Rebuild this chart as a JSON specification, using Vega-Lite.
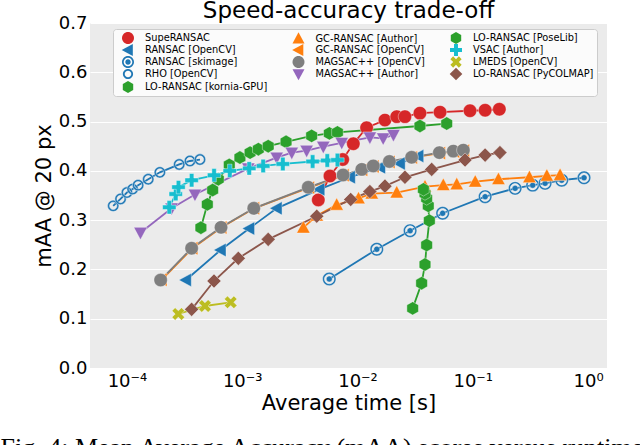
{
  "$schema": "https://vega.github.io/schema/vega-lite/v6.json",
  "width": 517,
  "height": 345,
  "autosize": {"type": "none"},
  "padding": {"left": 90, "top": 23, "right": 33, "bottom": 77},
  "background": "white",
  "title": {"text": "Speed-accuracy trade-off", "font": "DejaVu Sans", "fontSize": 23, "fontWeight": "normal", "color": "black", "anchor": "middle", "offset": -27, "baseline": "alphabetic"},
  "config": {
    "view": {"fill": "#EBEBEB", "stroke": null},
    "axis": {"gridColor": "white", "gridWidth": 1.2, "gridOpacity": 1, "domain": false, "ticks": false, "labelFont": "DejaVu Sans", "labelFontSize": 18, "labelColor": "black", "titleFont": "DejaVu Sans", "titleFontSize": 21, "titleFontWeight": "normal", "titleColor": "black"}
  },
  "data": {"values": [
    {"s": "SupeRANSAC", "i": 0, "t": 0.00457, "m": 0.341},
    {"s": "SupeRANSAC", "i": 1, "t": 0.00577, "m": 0.3895},
    {"s": "SupeRANSAC", "i": 2, "t": 0.00744, "m": 0.423},
    {"s": "SupeRANSAC", "i": 3, "t": 0.0092, "m": 0.455},
    {"s": "SupeRANSAC", "i": 4, "t": 0.012, "m": 0.4875},
    {"s": "SupeRANSAC", "i": 5, "t": 0.0173, "m": 0.503},
    {"s": "SupeRANSAC", "i": 6, "t": 0.0219, "m": 0.510},
    {"s": "SupeRANSAC", "i": 7, "t": 0.0258, "m": 0.510},
    {"s": "SupeRANSAC", "i": 8, "t": 0.0348, "m": 0.517},
    {"s": "SupeRANSAC", "i": 9, "t": 0.052, "m": 0.519},
    {"s": "SupeRANSAC", "i": 10, "t": 0.0946, "m": 0.522},
    {"s": "SupeRANSAC", "i": 11, "t": 0.128, "m": 0.523},
    {"s": "SupeRANSAC", "i": 12, "t": 0.170, "m": 0.525},

    {"s": "RANSAC [OpenCV]", "i": 0, "t": 0.000325, "m": 0.1785},
    {"s": "RANSAC [OpenCV]", "i": 1, "t": 0.00065, "m": 0.2394},
    {"s": "RANSAC [OpenCV]", "i": 2, "t": 0.00115, "m": 0.283},
    {"s": "RANSAC [OpenCV]", "i": 3, "t": 0.00199, "m": 0.324},
    {"s": "RANSAC [OpenCV]", "i": 4, "t": 0.00467, "m": 0.3625},
    {"s": "RANSAC [OpenCV]", "i": 5, "t": 0.0086, "m": 0.387},
    {"s": "RANSAC [OpenCV]", "i": 6, "t": 0.0157, "m": 0.407},
    {"s": "RANSAC [OpenCV]", "i": 7, "t": 0.0233, "m": 0.415},
    {"s": "RANSAC [OpenCV]", "i": 8, "t": 0.0337, "m": 0.430},

    {"s": "RANSAC [skimage]", "i": 0, "t": 0.00569, "m": 0.1806},
    {"s": "RANSAC [skimage]", "i": 1, "t": 0.0147, "m": 0.241},
    {"s": "RANSAC [skimage]", "i": 2, "t": 0.0286, "m": 0.2786},
    {"s": "RANSAC [skimage]", "i": 3, "t": 0.0548, "m": 0.314},
    {"s": "RANSAC [skimage]", "i": 4, "t": 0.128, "m": 0.3476},
    {"s": "RANSAC [skimage]", "i": 5, "t": 0.233, "m": 0.3645},
    {"s": "RANSAC [skimage]", "i": 6, "t": 0.331, "m": 0.371},
    {"s": "RANSAC [skimage]", "i": 7, "t": 0.424, "m": 0.3747},
    {"s": "RANSAC [skimage]", "i": 8, "t": 0.591, "m": 0.381},
    {"s": "RANSAC [skimage]", "i": 9, "t": 0.923, "m": 0.386},

    {"s": "RHO [OpenCV]", "i": 0, "t": 0.000076, "m": 0.329},
    {"s": "RHO [OpenCV]", "i": 1, "t": 0.000088, "m": 0.343},
    {"s": "RHO [OpenCV]", "i": 2, "t": 0.0001, "m": 0.356},
    {"s": "RHO [OpenCV]", "i": 3, "t": 0.000112, "m": 0.363},
    {"s": "RHO [OpenCV]", "i": 4, "t": 0.000125, "m": 0.371},
    {"s": "RHO [OpenCV]", "i": 5, "t": 0.000153, "m": 0.383},
    {"s": "RHO [OpenCV]", "i": 6, "t": 0.000193, "m": 0.397},
    {"s": "RHO [OpenCV]", "i": 7, "t": 0.000284, "m": 0.413},
    {"s": "RHO [OpenCV]", "i": 8, "t": 0.000352, "m": 0.420},
    {"s": "RHO [OpenCV]", "i": 9, "t": 0.00043, "m": 0.423},

    {"s": "LO-RANSAC [kornia-GPU]", "i": 0, "t": 0.000438, "m": 0.2847},
    {"s": "LO-RANSAC [kornia-GPU]", "i": 1, "t": 0.000498, "m": 0.332},
    {"s": "LO-RANSAC [kornia-GPU]", "i": 2, "t": 0.000554, "m": 0.361},
    {"s": "LO-RANSAC [kornia-GPU]", "i": 3, "t": 0.00062, "m": 0.383},
    {"s": "LO-RANSAC [kornia-GPU]", "i": 4, "t": 0.000772, "m": 0.412},
    {"s": "LO-RANSAC [kornia-GPU]", "i": 5, "t": 0.000955, "m": 0.427},
    {"s": "LO-RANSAC [kornia-GPU]", "i": 6, "t": 0.00117, "m": 0.437},
    {"s": "LO-RANSAC [kornia-GPU]", "i": 7, "t": 0.00138, "m": 0.444},
    {"s": "LO-RANSAC [kornia-GPU]", "i": 8, "t": 0.00168, "m": 0.450},
    {"s": "LO-RANSAC [kornia-GPU]", "i": 9, "t": 0.0024, "m": 0.459},
    {"s": "LO-RANSAC [kornia-GPU]", "i": 10, "t": 0.004, "m": 0.471},
    {"s": "LO-RANSAC [kornia-GPU]", "i": 11, "t": 0.0057, "m": 0.476},
    {"s": "LO-RANSAC [kornia-GPU]", "i": 12, "t": 0.0067, "m": 0.478},
    {"s": "LO-RANSAC [kornia-GPU]", "i": 13, "t": 0.0348, "m": 0.491},
    {"s": "LO-RANSAC [kornia-GPU]", "i": 14, "t": 0.0594, "m": 0.496},

    {"s": "GC-RANSAC [Author]", "i": 0, "t": 0.00339, "m": 0.2847},
    {"s": "GC-RANSAC [Author]", "i": 1, "t": 0.00443, "m": 0.309},
    {"s": "GC-RANSAC [Author]", "i": 2, "t": 0.0066, "m": 0.331},
    {"s": "GC-RANSAC [Author]", "i": 3, "t": 0.0102, "m": 0.344},
    {"s": "GC-RANSAC [Author]", "i": 4, "t": 0.0133, "m": 0.354},
    {"s": "GC-RANSAC [Author]", "i": 5, "t": 0.0219, "m": 0.356},
    {"s": "GC-RANSAC [Author]", "i": 6, "t": 0.0385, "m": 0.368},
    {"s": "GC-RANSAC [Author]", "i": 7, "t": 0.0555, "m": 0.371},
    {"s": "GC-RANSAC [Author]", "i": 8, "t": 0.0726, "m": 0.3725},
    {"s": "GC-RANSAC [Author]", "i": 9, "t": 0.105, "m": 0.378},
    {"s": "GC-RANSAC [Author]", "i": 10, "t": 0.167, "m": 0.383},
    {"s": "GC-RANSAC [Author]", "i": 11, "t": 0.31, "m": 0.387},
    {"s": "GC-RANSAC [Author]", "i": 12, "t": 0.439, "m": 0.390},
    {"s": "GC-RANSAC [Author]", "i": 13, "t": 0.572, "m": 0.3915},

    {"s": "GC-RANSAC [OpenCV]", "i": 0, "t": 0.0002, "m": 0.179},
    {"s": "GC-RANSAC [OpenCV]", "i": 1, "t": 0.00037, "m": 0.243},
    {"s": "GC-RANSAC [OpenCV]", "i": 2, "t": 0.00066, "m": 0.285},
    {"s": "GC-RANSAC [OpenCV]", "i": 3, "t": 0.00127, "m": 0.324},
    {"s": "GC-RANSAC [OpenCV]", "i": 4, "t": 0.0038, "m": 0.366},
    {"s": "GC-RANSAC [OpenCV]", "i": 5, "t": 0.0076, "m": 0.391},
    {"s": "GC-RANSAC [OpenCV]", "i": 6, "t": 0.011, "m": 0.402},
    {"s": "GC-RANSAC [OpenCV]", "i": 7, "t": 0.0138, "m": 0.409},
    {"s": "GC-RANSAC [OpenCV]", "i": 8, "t": 0.019, "m": 0.418},
    {"s": "GC-RANSAC [OpenCV]", "i": 9, "t": 0.0297, "m": 0.427},
    {"s": "GC-RANSAC [OpenCV]", "i": 10, "t": 0.052, "m": 0.436},
    {"s": "GC-RANSAC [OpenCV]", "i": 11, "t": 0.069, "m": 0.439},
    {"s": "GC-RANSAC [OpenCV]", "i": 12, "t": 0.084, "m": 0.441},

    {"s": "MAGSAC++ [OpenCV]", "i": 0, "t": 0.000196, "m": 0.1785},
    {"s": "MAGSAC++ [OpenCV]", "i": 1, "t": 0.000364, "m": 0.243},
    {"s": "MAGSAC++ [OpenCV]", "i": 2, "t": 0.000655, "m": 0.2854},
    {"s": "MAGSAC++ [OpenCV]", "i": 3, "t": 0.00126, "m": 0.324},
    {"s": "MAGSAC++ [OpenCV]", "i": 4, "t": 0.00374, "m": 0.3666},
    {"s": "MAGSAC++ [OpenCV]", "i": 5, "t": 0.0075, "m": 0.3916},
    {"s": "MAGSAC++ [OpenCV]", "i": 6, "t": 0.0109, "m": 0.403},
    {"s": "MAGSAC++ [OpenCV]", "i": 7, "t": 0.0137, "m": 0.410},
    {"s": "MAGSAC++ [OpenCV]", "i": 8, "t": 0.0189, "m": 0.419},
    {"s": "MAGSAC++ [OpenCV]", "i": 9, "t": 0.0295, "m": 0.4275},
    {"s": "MAGSAC++ [OpenCV]", "i": 10, "t": 0.0513, "m": 0.437},
    {"s": "MAGSAC++ [OpenCV]", "i": 11, "t": 0.0678, "m": 0.440},
    {"s": "MAGSAC++ [OpenCV]", "i": 12, "t": 0.0828, "m": 0.442},

    {"s": "MAGSAC++ [Author]", "i": 0, "t": 0.000131, "m": 0.2745},
    {"s": "MAGSAC++ [Author]", "i": 1, "t": 0.000244, "m": 0.324},
    {"s": "MAGSAC++ [Author]", "i": 2, "t": 0.000389, "m": 0.352},
    {"s": "MAGSAC++ [Author]", "i": 3, "t": 0.00113, "m": 0.405},
    {"s": "MAGSAC++ [Author]", "i": 4, "t": 0.00199, "m": 0.427},
    {"s": "MAGSAC++ [Author]", "i": 5, "t": 0.00269, "m": 0.437},
    {"s": "MAGSAC++ [Author]", "i": 6, "t": 0.00362, "m": 0.441},
    {"s": "MAGSAC++ [Author]", "i": 7, "t": 0.00505, "m": 0.449},
    {"s": "MAGSAC++ [Author]", "i": 8, "t": 0.0073, "m": 0.457},
    {"s": "MAGSAC++ [Author]", "i": 9, "t": 0.0128, "m": 0.468},
    {"s": "MAGSAC++ [Author]", "i": 10, "t": 0.0167, "m": 0.466},
    {"s": "MAGSAC++ [Author]", "i": 11, "t": 0.0205, "m": 0.473},

    {"s": "LO-RANSAC [PoseLib]", "i": 0, "t": 0.0301, "m": 0.121},
    {"s": "LO-RANSAC [PoseLib]", "i": 1, "t": 0.036, "m": 0.172},
    {"s": "LO-RANSAC [PoseLib]", "i": 2, "t": 0.0385, "m": 0.210},
    {"s": "LO-RANSAC [PoseLib]", "i": 3, "t": 0.0398, "m": 0.2495},
    {"s": "LO-RANSAC [PoseLib]", "i": 4, "t": 0.042, "m": 0.299},
    {"s": "LO-RANSAC [PoseLib]", "i": 5, "t": 0.0411, "m": 0.329},
    {"s": "LO-RANSAC [PoseLib]", "i": 6, "t": 0.0398, "m": 0.344},
    {"s": "LO-RANSAC [PoseLib]", "i": 7, "t": 0.0385, "m": 0.354},
    {"s": "LO-RANSAC [PoseLib]", "i": 8, "t": 0.0373, "m": 0.3625},

    {"s": "VSAC [Author]", "i": 0, "t": 0.000233, "m": 0.326},
    {"s": "VSAC [Author]", "i": 1, "t": 0.000265, "m": 0.353},
    {"s": "VSAC [Author]", "i": 2, "t": 0.00028, "m": 0.367},
    {"s": "VSAC [Author]", "i": 3, "t": 0.000364, "m": 0.381},
    {"s": "VSAC [Author]", "i": 4, "t": 0.00057, "m": 0.391},
    {"s": "VSAC [Author]", "i": 5, "t": 0.00078, "m": 0.400},
    {"s": "VSAC [Author]", "i": 6, "t": 0.00115, "m": 0.405},
    {"s": "VSAC [Author]", "i": 7, "t": 0.00152, "m": 0.410},
    {"s": "VSAC [Author]", "i": 8, "t": 0.00225, "m": 0.414},
    {"s": "VSAC [Author]", "i": 9, "t": 0.00408, "m": 0.419},
    {"s": "VSAC [Author]", "i": 10, "t": 0.00547, "m": 0.421},
    {"s": "VSAC [Author]", "i": 11, "t": 0.0067, "m": 0.422},

    {"s": "LMEDS [OpenCV]", "i": 0, "t": 0.000279, "m": 0.1096},
    {"s": "LMEDS [OpenCV]", "i": 1, "t": 0.000475, "m": 0.1258},
    {"s": "LMEDS [OpenCV]", "i": 2, "t": 0.000794, "m": 0.1333},

    {"s": "LO-RANSAC [PyCOLMAP]", "i": 0, "t": 0.000364, "m": 0.119},
    {"s": "LO-RANSAC [PyCOLMAP]", "i": 1, "t": 0.000569, "m": 0.1765},
    {"s": "LO-RANSAC [PyCOLMAP]", "i": 2, "t": 0.000925, "m": 0.2225},
    {"s": "LO-RANSAC [PyCOLMAP]", "i": 3, "t": 0.00168, "m": 0.261},
    {"s": "LO-RANSAC [PyCOLMAP]", "i": 4, "t": 0.00443, "m": 0.308},
    {"s": "LO-RANSAC [PyCOLMAP]", "i": 5, "t": 0.00873, "m": 0.342},
    {"s": "LO-RANSAC [PyCOLMAP]", "i": 6, "t": 0.0128, "m": 0.358},
    {"s": "LO-RANSAC [PyCOLMAP]", "i": 7, "t": 0.0173, "m": 0.369},
    {"s": "LO-RANSAC [PyCOLMAP]", "i": 8, "t": 0.0258, "m": 0.387},
    {"s": "LO-RANSAC [PyCOLMAP]", "i": 9, "t": 0.044, "m": 0.403},
    {"s": "LO-RANSAC [PyCOLMAP]", "i": 10, "t": 0.0857, "m": 0.422},
    {"s": "LO-RANSAC [PyCOLMAP]", "i": 11, "t": 0.128, "m": 0.432},
    {"s": "LO-RANSAC [PyCOLMAP]", "i": 12, "t": 0.172, "m": 0.437}
  ]},
  "encoding": {
    "y": {"field": "m", "type": "quantitative", "scale": {"domain": [0, 0.7], "nice": false, "zero": false},
      "axis": {"title": "mAA @ 20 px", "values": [0, 0.1, 0.2, 0.3, 0.4, 0.5, 0.6, 0.7], "format": ".1f", "labelPadding": 3, "titlePadding": 4}}
  },
  "layer": [
    {
      "mark": {"type": "line", "strokeWidth": 1.8},
      "encoding": {
        "x": {"field": "t", "type": "quantitative", "scale": {"type": "log", "domain": [0.0000478, 1.46], "nice": false},
          "axis": {"orient": "bottom", "title": "Fig. 4: Mean Average Accuracy (mAA) scores versus runtime", "titleFont": "Liberation Serif", "titleFontSize": 26, "titleFontWeight": "normal", "titleAnchor": "start", "titleAlign": "left", "titleBaseline": "alphabetic", "titleX": -90, "titleY": 87, "labels": false, "ticks": false, "domain": false, "grid": false}},
        "stroke": {"field": "s", "type": "nominal",
          "scale": {"domain": ["SupeRANSAC", "RANSAC [OpenCV]", "RANSAC [skimage]", "RHO [OpenCV]", "LO-RANSAC [PyCOLMAP]", "GC-RANSAC [Author]", "GC-RANSAC [OpenCV]", "MAGSAC++ [OpenCV]", "MAGSAC++ [Author]", "LO-RANSAC [kornia-GPU]", "LO-RANSAC [PoseLib]", "VSAC [Author]", "LMEDS [OpenCV]"],
            "range": ["#d62728", "#1f77b4", "#1f77b4", "#1f77b4", "#8c564b", "#ff7f0e", "#ff7f0e", "#7f7f7f", "#9467bd", "#2ca02c", "#2ca02c", "#17becf", "#bcbd22"]}},
        "order": {"field": "i", "type": "quantitative"}
      }
    },
    {
      "mark": {"type": "point", "filled": true, "size": 180, "opacity": 1, "stroke": "white", "strokeWidth": 0.8, "strokeOpacity": 0.5},
      "encoding": {
        "x": {"field": "t", "type": "quantitative",
          "axis": {"orient": "bottom", "title": "Average time [s]", "values": [0.0001, 0.001, 0.01, 0.1, 1], "labelExpr": "datum.value < 0.0002 ? '10⁻⁴' : datum.value < 0.002 ? '10⁻³' : datum.value < 0.02 ? '10⁻²' : datum.value < 0.2 ? '10⁻¹' : '10⁰'", "labelPadding": 4, "titlePadding": 2}},
        "color": {"field": "s", "type": "nominal",
          "scale": {"domain": ["SupeRANSAC", "RANSAC [OpenCV]", "RANSAC [skimage]", "RHO [OpenCV]", "LO-RANSAC [PyCOLMAP]", "GC-RANSAC [Author]", "GC-RANSAC [OpenCV]", "MAGSAC++ [OpenCV]", "MAGSAC++ [Author]", "LO-RANSAC [kornia-GPU]", "LO-RANSAC [PoseLib]", "VSAC [Author]", "LMEDS [OpenCV]"],
            "range": ["#d62728", "#1f77b4", "#1f77b4", "#1f77b4", "#8c564b", "#ff7f0e", "#ff7f0e", "#7f7f7f", "#9467bd", "#2ca02c", "#2ca02c", "#17becf", "#bcbd22"]},
          "legend": {"title": null, "orient": "none", "legendX": 23, "legendY": 6, "columns": 3, "symbolSize": 144, "symbolStrokeWidth": 0, "labelFont": "DejaVu Sans", "labelFontSize": 9.8, "labelColor": "black", "labelOffset": 11, "rowPadding": -4, "columnPadding": 18.5, "padding": 3, "fillColor": "#FBFBFB", "strokeColor": "#CCCCCC", "cornerRadius": 3, "symbolOpacity": 1, "symbolOffset": 6, "labelLimit": 300}},
        "shape": {"field": "s", "type": "nominal",
          "scale": {"domain": ["SupeRANSAC", "RANSAC [OpenCV]", "RANSAC [skimage]", "RHO [OpenCV]", "LO-RANSAC [PyCOLMAP]", "GC-RANSAC [Author]", "GC-RANSAC [OpenCV]", "MAGSAC++ [OpenCV]", "MAGSAC++ [Author]", "LO-RANSAC [kornia-GPU]", "LO-RANSAC [PoseLib]", "VSAC [Author]", "LMEDS [OpenCV]"],
            "range": [
              "M1,0A1,1,0,1,1,-1,0A1,1,0,1,1,1,0Z",
              "M-1.05,0L0.8,-1L0.8,1Z",
              "M1,0A1,1,0,1,1,-1,0A1,1,0,1,1,1,0Z M0.72,0A0.72,0.72,0,1,0,-0.72,0A0.72,0.72,0,1,0,0.72,0Z M0.45,0A0.45,0.45,0,1,1,-0.45,0A0.45,0.45,0,1,1,0.45,0Z",
              "M0.85,0A0.85,0.85,0,1,1,-0.85,0A0.85,0.85,0,1,1,0.85,0Z M0.55,0A0.55,0.55,0,1,0,-0.55,0A0.55,0.55,0,1,0,0.55,0Z",
              "M0,-1.05L1.05,0L0,1.05L-1.05,0Z",
              "M0,-1.05L1,0.8L-1,0.8Z",
              "M-1.05,0L0.8,-1L0.8,1Z",
              "M1,0A1,1,0,1,1,-1,0A1,1,0,1,1,1,0Z",
              "M0,1.05L1,-0.8L-1,-0.8Z",
              "M0,-1L0.866,-0.5L0.866,0.5L0,1L-0.866,0.5L-0.866,-0.5Z",
              "M0,-1L0.866,-0.5L0.866,0.5L0,1L-0.866,0.5L-0.866,-0.5Z",
              "M-0.33,-1H0.33V-0.33H1V0.33H0.33V1H-0.33V0.33H-1V-0.33H-0.33Z",
              "M0.474,-0.94L0.94,-0.474L0.467,0L0.94,0.474L0.474,0.94L0,0.467L-0.474,0.94L-0.94,0.474L-0.467,0L-0.94,-0.474L-0.474,-0.94L0,-0.467Z"
            ]}}
      }
    }
  ],
  "resolve": {"axis": {"x": "independent"}}
}
